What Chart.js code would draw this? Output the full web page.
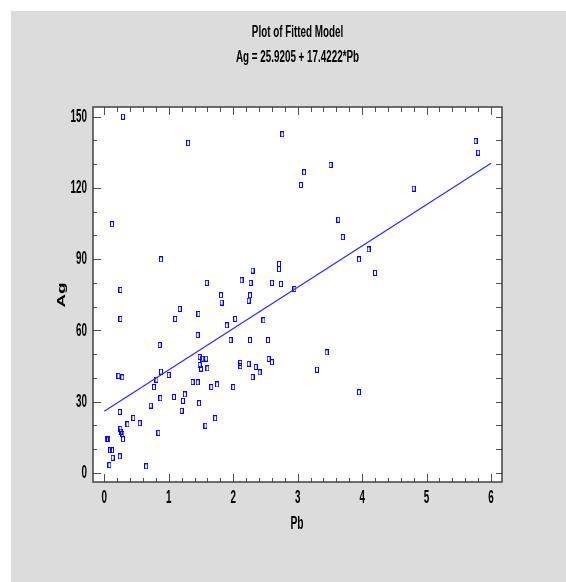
<!DOCTYPE html>
<html>
<head>
<meta charset="utf-8">
<script src="https://cdn.jsdelivr.net/npm/chart.js@4/dist/chart.umd.min.js"></script>
<style>
  html, body { margin: 0; padding: 0; background: #ffffff; }
  canvas { display: block; }
</style>
</head>
<body>
<canvas id="c" width="566" height="582"></canvas>
<script>
// ---- Data ----
const pbValues = [
  0.29, 1.30, 2.76, 3.10, 3.05, 0.12, 0.88, 1.59, 2.13, 2.27,
  2.30, 2.60, 2.74, 2.71, 2.71, 0.25, 3.51, 5.76, 5.80, 4.80,
  3.63, 3.70, 4.10, 3.95, 4.20, 2.95, 3.45, 3.30, 3.95, 0.25,
  1.81, 1.82, 2.26, 2.24, 1.17, 1.10, 1.46, 1.90, 2.03, 2.47,
  1.45, 1.96, 2.26, 2.54, 0.86, 1.48, 1.48, 1.52, 1.58, 1.50,
  1.60, 2.11, 2.11, 2.24, 2.55, 2.60, 2.35, 2.41, 2.30, 0.22,
  0.28, 0.88, 1.00, 0.81, 0.77, 1.37, 1.45, 1.66, 1.75, 2.00,
  1.25, 1.08, 0.87, 1.22, 0.72, 1.47, 1.20, 0.24, 0.45, 1.72,
  0.36, 0.55, 1.57, 0.25, 0.26, 0.28, 0.84, 0.04, 0.06, 0.29,
  0.09, 0.12, 0.13, 0.24, 0.08, 0.65
];
const agValues = [
  150.0, 138.9, 142.6, 126.6, 121.2, 104.7, 89.9, 80.0, 81.1, 80.0,
  85.2, 80.0, 79.5, 88.0, 85.8, 77.0, 129.7, 139.7, 134.9, 119.7,
  106.6, 99.3, 94.1, 89.9, 84.2, 77.4, 50.7, 43.4, 33.9, 64.8,
  74.8, 71.7, 74.8, 72.5, 69.0, 64.8, 66.9, 62.1, 64.8, 64.2,
  58.0, 55.9, 55.9, 55.9, 53.8, 48.8, 45.4, 48.1, 48.1, 43.9,
  44.0, 46.3, 44.9, 45.9, 48.0, 46.6, 44.6, 42.3, 40.3, 40.8,
  40.2, 42.6, 41.2, 39.2, 36.1, 38.2, 38.1, 36.1, 37.2, 36.1,
  33.0, 31.9, 31.4, 30.3, 28.3, 29.3, 26.1, 25.6, 23.1, 23.0,
  20.4, 20.9, 19.8, 18.5, 17.3, 16.4, 16.8, 14.1, 14.1, 14.1,
  9.5, 9.5, 6.3, 6.9, 3.2, 2.7
];
// Fitted model line: Ag = 25.9205 + 17.4222*Pb, evaluated at its two ends
const fitPb = [0, 6];
const fitAg = [25.92, 130.45];

const xTickLabels = [0, 1, 2, 3, 4, 5, 6];
const yTickLabels = [0, 30, 60, 90, 120, 150];
const titleLine1 = "Plot of Fitted Model";
const titleLine2 = "Ag = 25.9205 + 17.4222*Pb";
const xAxisTitle = "Pb";
const yAxisTitle = "Ag";

// ---- Marker: small open rectangle ----
const marker = document.createElement('canvas');
marker.width = 4; marker.height = 6;
(function(){
  const m = marker.getContext('2d');
  m.strokeStyle = '#0000ff';
  m.lineWidth = 1;
  m.strokeRect(0.5, 0.5, 3, 5);
})();

const FONT = '"Liberation Sans", Arial, sans-serif';
const SX = 0.82; // narrow-font emulation

function drawStretched(ctx, text, x, y, size, sy, align, rot) {
  ctx.save();
  ctx.translate(x, y);
  if (rot) ctx.rotate(rot);
  if (rot) ctx.scale(sy, SX); else ctx.scale(SX, sy);
  ctx.font = 'bold ' + size + 'px ' + FONT;
  ctx.textAlign = align;
  ctx.textBaseline = 'middle';
  ctx.fillStyle = '#000000';
  ctx.fillText(text, 0, 0);
  ctx.restore();
}

const framePlugin = {
  id: 'frame',
  beforeDraw(chart) {
    const ctx = chart.ctx;
    const a = chart.chartArea;
    ctx.save();
    ctx.fillStyle = '#ffffff';
    ctx.fillRect(0, 0, chart.width, chart.height);
    ctx.fillStyle = '#dcdcdc';
    ctx.fillRect(11, 11, chart.width - 11, chart.height - 11);
    ctx.fillStyle = '#ffffff';
    ctx.fillRect(a.left, a.top, a.right - a.left, a.bottom - a.top);
    ctx.restore();
  },
  afterDraw(chart) {
    const ctx = chart.ctx;
    const a = chart.chartArea;
    const xs = chart.scales.x, ys = chart.scales.y;
    ctx.save();
    ctx.strokeStyle = '#505050';
    ctx.lineWidth = 1;
    // ticks (inward on all four sides)
    ctx.beginPath();
    for (let i = 0; i <= 30; i++) {
      const v = i * 0.2;
      const px = Math.round(xs.getPixelForValue(v)) + 0.5;
      const major = (i % 5 === 0);
      const len = major ? 8 : 4;
      ctx.moveTo(px, a.bottom); ctx.lineTo(px, a.bottom - len);
      ctx.moveTo(px, a.top); ctx.lineTo(px, a.top + (major ? 8 : 5));
    }
    for (let i = 0; i <= 15; i++) {
      const v = i * 10;
      const py = Math.round(ys.getPixelForValue(v)) + 0.5;
      const major = (i % 3 === 0);
      const len = major ? 8 : 4;
      ctx.moveTo(a.left, py); ctx.lineTo(a.left + len, py);
      ctx.moveTo(a.right, py); ctx.lineTo(a.right - 6, py);
    }
    ctx.stroke();
    // border
    ctx.strokeStyle = '#404040';
    ctx.lineWidth = 1.5;
    ctx.strokeRect(a.left, a.top, a.right - a.left, a.bottom - a.top);
    ctx.restore();

    // tick labels
    xTickLabels.forEach(v => {
      drawStretched(ctx, String(v), xs.getPixelForValue(v), 498, 12, 1.6, 'center');
    });
    yTickLabels.forEach(v => {
      drawStretched(ctx, String(v), a.left - 6, ys.getPixelForValue(v), 12, 1.6, 'right');
    });
    // axis titles
    drawStretched(ctx, xAxisTitle, 297, 524, 12.5, 1.5, 'center');
    drawStretched(ctx, yAxisTitle, 62, 295, 12.5, 1.5, 'center', -Math.PI / 2);
    // main titles
    const cx = (a.left + a.right) / 2;
    drawStretched(ctx, titleLine1, cx, 33, 12, 1.3, 'center');
    drawStretched(ctx, titleLine2, cx, 58, 12, 1.3, 'center');
  }
};

const points = pbValues.map((x, i) => ({ x: x, y: agValues[i] }));
const fitPoints = fitPb.map((x, i) => ({ x: x, y: fitAg[i] }));

new Chart(document.getElementById('c'), {
  type: 'scatter',
  data: {
    datasets: [
      {
        type: 'line',
        data: fitPoints,
        borderColor: '#2a2aff',
        borderWidth: 1.2,
        pointRadius: 0,
        fill: false,
        tension: 0
      },
      {
        data: points,
        pointStyle: marker,
        pointRadius: 3,
        pointHoverRadius: 3,
        borderColor: '#0000ff',
        backgroundColor: 'rgba(0,0,0,0)'
      }
    ]
  },
  options: {
    responsive: false,
    animation: false,
    devicePixelRatio: 1,
    events: [],
    layout: { padding: { top: 107, right: 64, left: 0, bottom: 0 } },
    plugins: { legend: { display: false }, title: { display: false }, tooltip: { enabled: false } },
    scales: {
      x: {
        type: 'linear',
        min: -0.175,
        max: 6.17,
        afterFit: s => { s.height = 100; },
        ticks: { display: false, stepSize: 1, includeBounds: false },
        grid: { display: false },
        border: { display: false }
      },
      y: {
        type: 'linear',
        min: -3.9,
        max: 154.1,
        afterFit: s => { s.width = 93; },
        ticks: { display: false, stepSize: 30, includeBounds: false },
        grid: { display: false },
        border: { display: false }
      }
    }
  },
  plugins: [framePlugin]
});
</script>
</body>
</html>
